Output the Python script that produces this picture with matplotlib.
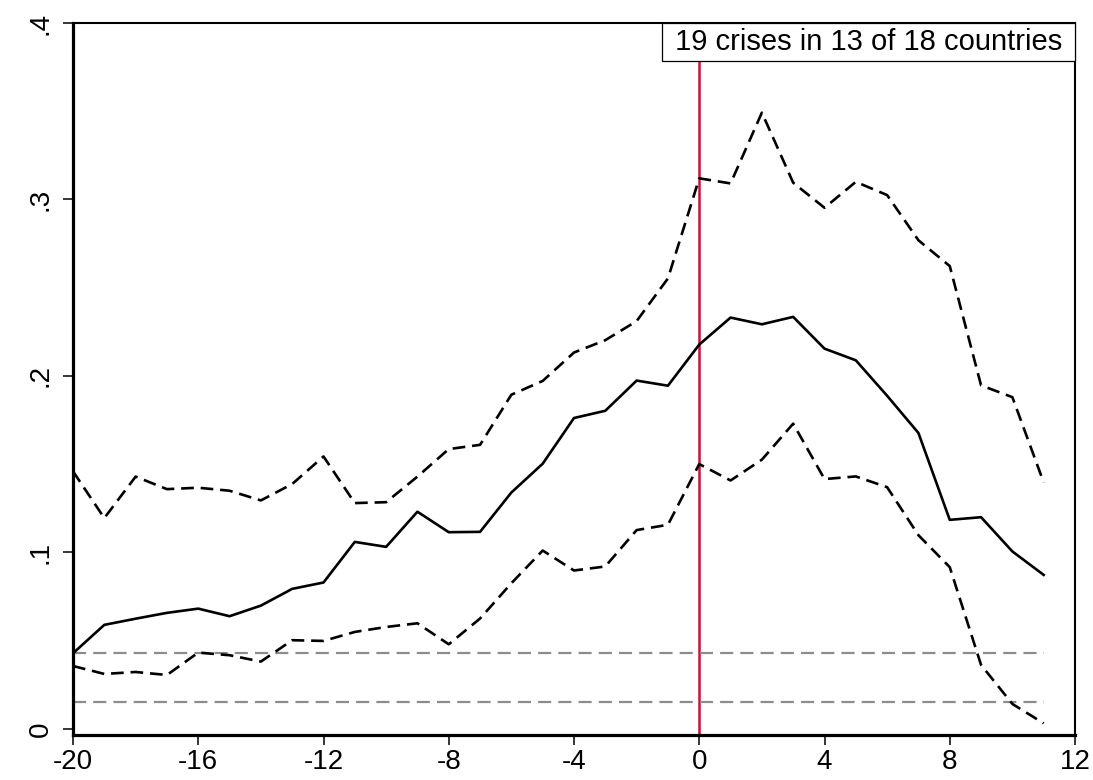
import matplotlib
matplotlib.use("Agg")
import matplotlib.pyplot as plt
from matplotlib.offsetbox import AnchoredText

plt.rcParams['font.family'] = ['Liberation Sans', 'DejaVu Sans']

years = list(range(-20, 12))
mean = [0.0429, 0.0590, 0.0625, 0.0658, 0.0682, 0.0639, 0.0699, 0.0794, 0.0830, 0.1060,
        0.1032, 0.1231, 0.1115, 0.1117, 0.1340, 0.1503, 0.1762, 0.1803, 0.1974, 0.1945,
        0.2178, 0.2331, 0.2293, 0.2335, 0.2155, 0.2089, 0.1888, 0.1677, 0.1185, 0.1200,
        0.1006, 0.0873]
upper = [0.1460, 0.1195, 0.1430, 0.1359, 0.1367, 0.1350, 0.1295, 0.1388, 0.1544, 0.1280,
         0.1285, 0.1430, 0.1586, 0.1610, 0.1894, 0.1972, 0.2133, 0.2203, 0.2311, 0.2553,
         0.3120, 0.3091, 0.3492, 0.3095, 0.2953, 0.3100, 0.3025, 0.2769, 0.2623, 0.1947,
         0.1880, 0.1397]
lower = [0.0357, 0.0312, 0.0323, 0.0306, 0.0433, 0.0418, 0.0382, 0.0503, 0.0499, 0.0550,
         0.0578, 0.0599, 0.0480, 0.0626, 0.0826, 0.1011, 0.0898, 0.0921, 0.1127, 0.1157,
         0.1501, 0.1408, 0.1526, 0.1730, 0.1416, 0.1431, 0.1370, 0.1098, 0.0917, 0.0363,
         0.0142, 0.0032]
ref_levels = [0.0429, 0.0153]
crisis_year = 0
label_text = "19 crises in 13 of 18 countries"
xticks = [-20, -16, -12, -8, -4, 0, 4, 8, 12]
yticks = [0, 0.1, 0.2, 0.3, 0.4]
yticklabels = ["0", ".1", ".2", ".3", ".4"]

fig = plt.figure(figsize=(10.93, 7.80), dpi=100)
ax = fig.add_axes([73/1093, 1-735/780, (1075-73)/1093, (735-23)/780])

ax.axvline(crisis_year, color='#C8103C', lw=1.8, zorder=1)
for lv in ref_levels:
    ax.plot([years[0], years[-1]], [lv, lv], color='#8C8C8C', lw=1.6,
            dashes=(5.9, 3.2), zorder=2)
ax.plot(years, upper, color='black', lw=1.9, dashes=(4.8, 2.6), zorder=3)
ax.plot(years, lower, color='black', lw=1.9, dashes=(4.8, 2.6), zorder=3)
ax.plot(years, mean, color='black', lw=1.9, zorder=3)

ax.set_xlim(-20, 12)
ax.set_ylim(-0.0034, 0.4)
ax.set_xticks(xticks)
ax.set_xticklabels([str(t) for t in xticks])
ax.set_yticks(yticks)
ax.set_yticklabels(yticklabels, rotation=90, va='center')
ax.tick_params(axis='both', direction='out', length=7, width=1.1, labelsize=20)
ax.tick_params(axis='x', pad=3)
ax.tick_params(axis='y', pad=7)

for s in ['left', 'bottom']:
    ax.spines[s].set_linewidth(2.3)
for s in ['top', 'right']:
    ax.spines[s].set_linewidth(1.5)

at = AnchoredText(" " + label_text + " ", loc='upper right', frameon=True, borderpad=0,
                  pad=0.17, prop=dict(size=21))
at.patch.set_edgecolor('black')
at.patch.set_linewidth(0.9)
at.patch.set_boxstyle('square,pad=0')
at.zorder = 5
ax.add_artist(at)

fig.savefig("out.png", dpi=100)
